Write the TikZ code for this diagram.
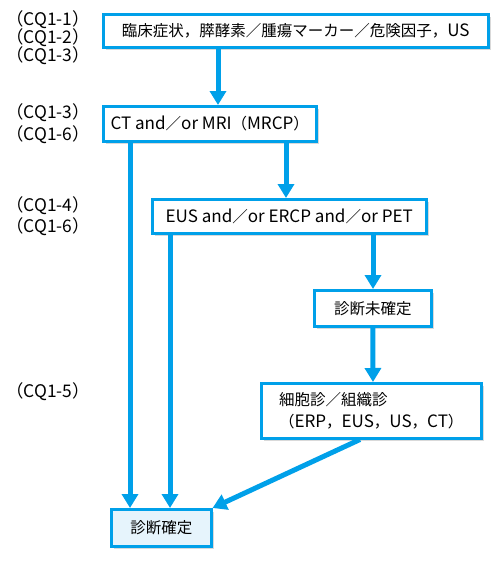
\documentclass[tikz,border=0pt]{standalone}
\usepackage{fontspec}
\setmainfont{Noto Sans CJK JP}[Scale=1.1]
\newfontfamily\jp{Noto Sans CJK JP}
\usepackage{tikz}
\usetikzlibrary{arrows.meta,positioning,calc,shadows}
\definecolor{myblue}{RGB}{0,160,233}
\definecolor{mylight}{RGB}{230,244,252}
\tikzset{
    line/.style   = {-{Triangle[width=16pt,length=14pt]}, line width=5pt, draw=myblue},
    block/.style  = {draw=myblue, line width=2.5pt, fill=white,
            anchor=north west, align=center, inner sep=0pt,
            font=\fontsize{15.5}{22}\selectfont,
            drop shadow={shadow xshift=3pt, shadow yshift=-3pt, fill=black!15, opacity=1}},
    final/.style  = {block, fill=mylight},
    cq/.style     = {anchor=west, inner sep=0pt, font=\fontsize{15.8}{18}\selectfont},
}

\begin{document}
\begin{tikzpicture}[x=1pt,y=-1pt]
    \useasboundingbox (0,0) rectangle (500,563);
    % Nodes
    \node[block, minimum width=385pt, minimum height=33pt] (clin) at (102,13)
        {{\jp 臨床症状，膵酵素／腫瘍マーカー／危険因子，}US};
    \node[block, minimum width=213pt, minimum height=35pt] (ct) at (102,105)
        {CT and{\jp ／}or MRI{\jp （}MRCP{\jp ）}};
    \node[block, minimum width=274pt, minimum height=34pt] (eus) at (151,198)
        {EUS and{\jp ／}or ERCP and{\jp ／}or PET};
    \node[block, minimum width=117pt, minimum height=36pt] (undet) at (313,289)
        {\jp 診断未確定};
    \node[block, minimum width=220pt, minimum height=55pt, align=left] (cyto) at (260,382)
        {{\jp 細胞診／組織診}\\{\jp （}ERP{\jp ，}EUS{\jp ，}US{\jp ，}CT{\jp ）}};
    \node[final, minimum width=100pt, minimum height=37pt] (done) at (110,508)
        {\jp 診断確定};
    % CQ labels
    \node[cq] (cq11) at (6,20) {（CQ1-1）};
    \node[cq] (cq12) at (6,38) {（CQ1-2）};
    \node[cq] (cq13) at (6,56) {（CQ1-3）};
    \node[cq] (cq13b) at (6,113) {（CQ1-3）};
    \node[cq] (cq16) at (6,135) {（CQ1-6）};
    \node[cq] (cq14) at (6,206) {（CQ1-4）};
    \node[cq] (cq16b) at (6,227) {（CQ1-6）};
    \node[cq] (cq15) at (6,392) {（CQ1-5）};
    % Arrows
    \draw[line] ([xshift=116pt]clin.south west) -- ([xshift=116pt]ct.north west);
    \draw[line] ([xshift=184pt]ct.south west) -- ([xshift=135pt]eus.north west);
    \draw[line] ([xshift=28pt]ct.south west) -- ([xshift=20pt]done.north west);
    \draw[line] ([xshift=19pt]eus.south west) -- ([xshift=60pt]done.north west);
    \draw[line] ([xshift=222pt]eus.south west) -- ([xshift=60pt]undet.north west);
    \draw[line] (undet.south) -- ([xshift=113pt]cyto.north west);
    \draw[line] ([xshift=100pt]cyto.south west) -- (done.north east);
\end{tikzpicture}
\end{document}
